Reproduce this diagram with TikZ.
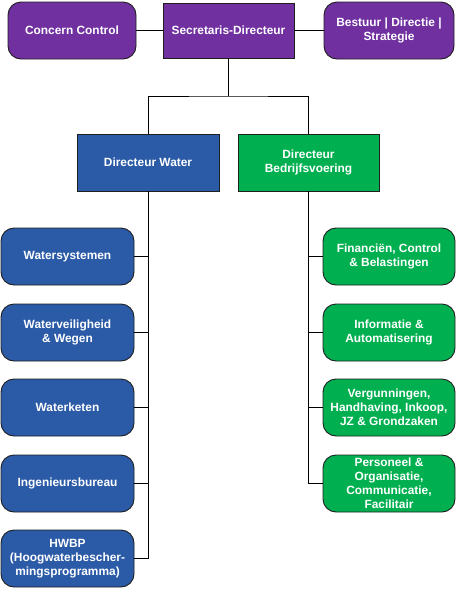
\documentclass[tikz,border=0pt]{standalone}
\usepackage{fontspec}
\setmainfont{Liberation Sans}
\definecolor{cpurple}{HTML}{7030A0}
\definecolor{cblue}{HTML}{2B5BA7}
\definecolor{cgreen}{HTML}{00B050}
\definecolor{cborder}{HTML}{1F1F1F}
\begin{document}
\begin{tikzpicture}[x=1pt,y=-1pt,
  box/.style={draw=cborder,line width=0.9pt,text=white,align=center,
    font=\fontsize{11.9}{14}\selectfont\bfseries,inner sep=0pt},
  rbox/.style={box,rounded corners=13pt},
  link/.style={draw=black,line width=0.9pt}]
\useasboundingbox (0,0) rectangle (457,590);
% top row
\node[rbox,fill=cpurple,minimum width=128pt,minimum height=57pt] (cc) at (72,30.5) {Concern Control};
\node[box,fill=cpurple,minimum width=131pt,minimum height=55pt] (sd) at (228.5,30.5) {Secretaris-Directeur};
\node[rbox,fill=cpurple,minimum width=130pt,minimum height=57pt] (bd) at (389,30.5) {Bestuur | Directie |\\Strategie};
% directors
\node[box,fill=cblue,minimum width=142pt,minimum height=57pt] (dw) at (148,162.5) {Directeur Water};
\node[box,fill=cgreen,minimum width=141pt,minimum height=57pt] (db) at (308.5,162.5) {Directeur\\Bedrijfsvoering};
% left column
\tikzset{lbox/.style={rbox,fill=cblue,minimum width=133pt,minimum height=57pt},
         gbox/.style={rbox,fill=cgreen,minimum width=132pt,minimum height=57pt}}
\node[lbox] (l1) at (67.5,256.5) {Watersystemen};
\node[lbox] (l2) at (67.5,332.5) {Waterveiligheid\\\& Wegen};
\node[lbox] (l3) at (67.5,407.5) {Waterketen};
\node[lbox] (l4) at (67.5,483.5) {Ingenieursbureau};
\node[lbox] (l5) at (67.5,558.5) {HWBP\\(Hoogwaterbescher-\\mingsprogramma)};
% right column
\node[gbox] (r1) at (389,256.5) {Financiën, Control\\\& Belastingen};
\node[gbox] (r2) at (389,332.5) {Informatie \&\\Automatisering};
\node[gbox] (r3) at (389,407.5) {Vergunningen,\\Handhaving, Inkoop,\\JZ \& Grondzaken};
\node[gbox] (r4) at (389,483.5) {Personeel \&\\Organisatie,\\Communicatie,\\Facilitair};
% connectors
\draw[link] (cc.east) -- (sd.west);
\draw[link] (sd.east) -- (bd.west);
\coordinate (mid) at (228.5,96);
\draw[link] (sd.south) -- (mid);
\draw[link] (dw.north) |- (mid) -| (db.north);
\foreach \n in {l1,l2,l3,l4,l5}
  \draw[link] (dw.south) |- (\n.east);
\foreach \n in {r1,r2,r3,r4}
  \draw[link] (db.south) |- (\n.west);
\end{tikzpicture}
\end{document}
